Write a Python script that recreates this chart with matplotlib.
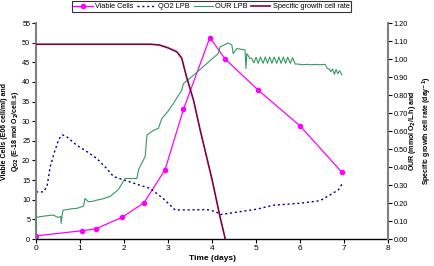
import matplotlib
matplotlib.use('Agg')
import matplotlib.pyplot as plt

# Viable cells (E06 cell/ml) - left axis
cell_t = [0.0, 1.04, 1.36, 1.95, 2.45, 2.93, 3.35, 3.95, 4.3, 5.05, 6.0, 6.95]
cell_v = [0.8, 2.1, 2.6, 5.5, 9.2, 17.6, 33.0, 51.3, 45.8, 37.9, 28.8, 17.0]

# QO2 LPB - left axis
qo2_t = [0.0, 0.17, 0.25, 0.32, 0.43, 0.52, 0.6, 0.7, 0.92, 1.15, 1.38, 1.6, 1.76,
         2.06, 2.36, 2.59, 2.89, 3.16, 3.42, 3.88, 4.1, 4.18, 5.02, 5.39, 6.0,
         6.45, 6.68, 6.87, 6.97]
qo2_v = [12.0, 12.0, 13.5, 18.4, 22.6, 25.5, 26.5, 26.0, 23.9, 22.3, 20.5, 18.0, 15.9,
         14.8, 13.7, 12.9, 10.3, 7.4, 7.4, 7.5, 6.9, 6.2, 7.6, 8.6, 9.1,
         9.75, 11.2, 12.5, 14.3]

# OUR LPB (mmol O2/L.h) - right axis
our_t = [0.0, 0.0, 0.17, 0.39, 0.5, 0.56, 0.57, 0.6, 0.62, 0.7, 0.8, 0.92, 1.0, 1.08,
         1.11, 1.19, 1.3, 1.38, 1.5, 1.68, 1.87, 1.98, 2.02, 2.29, 2.33, 2.44,
         2.48, 2.52, 2.67, 2.78, 2.86, 3.0, 3.12, 3.31, 3.35, 3.58, 3.88, 4.14,
         4.18, 4.37, 4.45, 4.48, 4.56, 4.67, 4.75, 4.77, 4.79, 4.86,
         4.90, 4.95, 5.00, 5.05, 5.10, 5.16, 5.21, 5.26, 5.31, 5.36, 5.41, 5.47,
         5.52, 5.57, 5.62, 5.67, 5.72, 5.78, 5.83, 5.89,
         5.95, 6.05, 6.15, 6.25, 6.35, 6.45, 6.57, 6.62, 6.66, 6.70, 6.74, 6.78,
         6.82, 6.86, 6.90, 6.95]
our_v = [0.0, 0.12, 0.127, 0.133, 0.12, 0.125, 0.087, 0.15, 0.161, 0.163, 0.168, 0.17, 0.176, 0.183,
         0.225, 0.207, 0.21, 0.216, 0.222, 0.236, 0.275, 0.319, 0.336, 0.336, 0.386, 0.439,
         0.46, 0.578, 0.604, 0.615, 0.67, 0.71, 0.753, 0.827, 0.864, 0.91, 0.975, 1.03,
         1.067, 1.089, 1.078, 1.03, 1.058, 1.054, 1.05, 0.947, 1.03, 1.004,
         1.004, 0.978, 1.010, 0.976, 1.011, 0.976, 1.011, 0.976, 1.011, 0.976, 1.011, 0.976,
         1.011, 0.976, 1.011, 0.976, 1.010, 0.976, 1.008, 0.972,
         0.972, 0.968, 0.970, 0.968, 0.970, 0.968, 0.970, 0.947, 0.945, 0.930, 0.944, 0.915,
         0.942, 0.918, 0.935, 0.912]

# Specific growth cell rate (day-1) - right axis
mu_t = [0.0, 2.6, 2.8, 3.0, 3.2, 3.31, 3.42, 3.58, 3.73, 4.0, 4.18, 4.3]
mu_v = [1.082, 1.082, 1.078, 1.062, 1.04, 1.005, 0.90, 0.77, 0.605, 0.33, 0.124, 0.0]

plt.rcParams['font.family'] = ['Liberation Sans', 'DejaVu Sans']

fig = plt.figure(figsize=(4.35, 2.66), dpi=100)
ax = fig.add_axes([0.083, 0.1015, 0.809, 0.812])
ax2 = ax.twinx()

l1, = ax.plot(cell_t, cell_v, color='#FF00FF', lw=0.9, marker='o', ms=3,
              label='Viable Cells')
l2, = ax.plot(qo2_t, qo2_v, color='#000080', lw=1.0, ls=(0, (1.5, 2)),
              label='QO2 LPB')
l3, = ax2.plot(our_t, our_v, color='#339966', lw=0.8, label='OUR LPB')
l4, = ax2.plot(mu_t, mu_v, color='#800040', lw=1.2,
               label='Specific growth cell rate')

ax.set_xlim(0, 8)
ax.set_ylim(0, 55)
ax2.set_ylim(0, 1.2)
ax.set_xticks(range(0, 9))
ax.set_yticks(range(0, 56, 5))
ax2.set_yticks([i / 10 for i in range(13)])
ax2.set_yticklabels(['%.2f' % (i / 10) for i in range(13)])

for a in (ax, ax2):
    a.spines['top'].set_visible(False)
    a.tick_params(labelsize=5.3, length=3, width=0.8, pad=1.2)
ax.tick_params(axis='x', labelsize=6)
ax.spines['left'].set_color('#808080')
ax.spines['left'].set_linewidth(1.5)
ax2.spines['right'].set_color('#808080')
ax2.spines['right'].set_linewidth(1.5)
ax2.spines['left'].set_visible(False)
ax2.spines['bottom'].set_visible(False)
ax.spines['right'].set_visible(False)
ax.spines['bottom'].set_linewidth(1.0)

ax.set_xlabel('Time (days)', fontsize=6, fontweight='bold', labelpad=2)
ax.set_ylabel('Viable Cells (E06 cell/ml) and\nQ$_{\\mathbf{O2}}$ (E-18 mol O$_{\\mathbf{2}}$/cell.s)',
              fontsize=5, fontweight='bold', linespacing=1.3)
ax.yaxis.set_label_coords(-0.042, 0.5)
ax2.set_ylabel('OUR (mmol O$_{\\mathbf{2}}$/L.h) and\nSpecific growth cell rate (day$^{\\mathbf{-1}}$)',
               fontsize=5, fontweight='bold', linespacing=1.3)
ax2.yaxis.set_label_coords(1.055, 0.5)

leg = fig.legend(handles=[l1, l2, l3, l4], loc='upper center',
                 bbox_to_anchor=(0.486, 0.995), ncol=4, fontsize=5.3,
                 frameon=True, fancybox=False, edgecolor='black',
                 borderpad=0.25, handlelength=2.6, columnspacing=0.5,
                 handletextpad=0.3, borderaxespad=0)
leg.get_frame().set_linewidth(0.8)

fig.savefig('out.png', dpi=100)
